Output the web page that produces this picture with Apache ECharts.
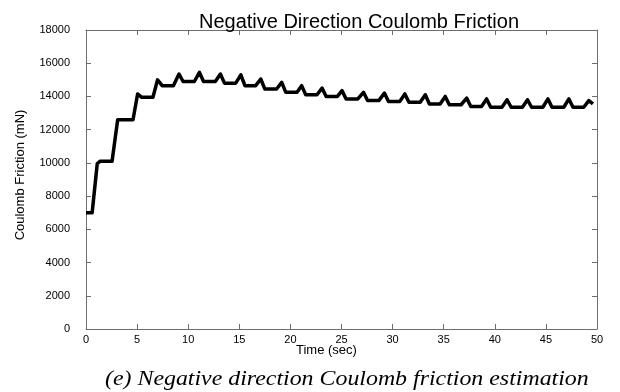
<!DOCTYPE html>
<html>
<head>
<meta charset="utf-8">
<script src="https://cdn.jsdelivr.net/npm/echarts@6/dist/echarts.min.js"></script>
<style>
  html, body { margin: 0; padding: 0; background: #fff; }
  #chart { width: 620px; height: 392px; }
</style>
</head>
<body>
<div id="chart"></div>
<script>
// Estimated negative-direction Coulomb friction over time
const timeSec = [
  0, 0.6, 1.1, 1.4, 2.55, 3.1, 4.6, 5.05, 5.45, 6.55,
  7.0, 7.45, 8.55, 9.1, 9.5, 10.6, 11.1, 11.5, 12.65, 13.15,
  13.55, 14.65, 15.15, 15.55, 16.6, 17.1, 17.5, 18.65, 19.15, 19.55,
  20.65, 21.1, 21.5, 22.6, 23.1, 23.5, 24.6, 25.05, 25.45, 26.6,
  27.15, 27.55, 28.65, 29.2, 29.6, 30.7, 31.2, 31.6, 32.7, 33.2,
  33.6, 34.65, 35.15, 35.55, 36.7, 37.25, 37.65, 38.7, 39.2, 39.6,
  40.7, 41.2, 41.6, 42.7, 43.2, 43.6, 44.7, 45.2, 45.6, 46.75,
  47.25, 47.65, 48.7, 49.2, 49.6
];
const frictionMN = [
  7000, 7000, 9950, 10100, 10100, 12600, 12600, 14150, 13950, 13950,
  15000, 14650, 14650, 15350, 14900, 14900, 15450, 14900, 14900, 15350,
  14800, 14800, 15300, 14650, 14650, 15050, 14450, 14450, 14850, 14250,
  14250, 14650, 14100, 14100, 14500, 14000, 14000, 14350, 13850, 13850,
  14250, 13750, 13750, 14200, 13700, 13700, 14150, 13650, 13650, 14100,
  13550, 13550, 14000, 13500, 13500, 13900, 13400, 13400, 13850, 13350,
  13350, 13800, 13350, 13350, 13800, 13350, 13350, 13850, 13350, 13350,
  13850, 13350, 13350, 13750, 13550
];
const xTicks = [0, 5, 10, 15, 20, 25, 30, 35, 40, 45, 50];
const yTicks = [0, 2000, 4000, 6000, 8000, 10000, 12000, 14000, 16000, 18000];

const chartTitle = 'Negative Direction Coulomb Friction';
const xName = 'Time (sec)';
const yName = 'Coulomb Friction (mN)';
const caption = '(e) Negative direction Coulomb friction estimation';

const sans = '"Liberation Sans", Arial, sans-serif';
const serif = '"Liberation Serif", "Times New Roman", serif';

const points = timeSec.map((t, i) => [t, frictionMN[i]]);

const chart = echarts.init(document.getElementById('chart'), null, { renderer: 'canvas' });

const frameColor = '#6e6e6e';
const boxLine = { show: true, onZero: false, lineStyle: { color: frameColor, width: 1 } };
const inTick = { show: true, inside: true, length: 5, lineStyle: { color: frameColor, width: 1 } };
const tickFont = { fontFamily: sans, fontSize: 11, color: '#000' };

chart.setOption({
  animation: false,
  backgroundColor: '#fff',
  grid: { left: 86, right: 23, top: 30, bottom: 63, containLabel: false },
  title: {
    text: chartTitle,
    left: 354, top: 7, textAlign: 'center',
    textStyle: { fontFamily: sans, fontSize: 20, fontWeight: 'normal', color: '#000' }
  },
  xAxis: [
    {
      type: 'value', position: 'bottom',
      min: xTicks[0], max: xTicks[xTicks.length - 1], interval: xTicks[1] - xTicks[0],
      axisLine: boxLine, axisTick: inTick,
      axisLabel: Object.assign({ margin: 5 }, tickFont),
      splitLine: { show: false }
    },
    {
      type: 'value', position: 'top',
      min: xTicks[0], max: xTicks[xTicks.length - 1], interval: xTicks[1] - xTicks[0],
      axisLine: boxLine, axisTick: inTick,
      axisLabel: { show: false }, splitLine: { show: false }
    }
  ],
  yAxis: [
    {
      type: 'value', position: 'left',
      min: yTicks[0], max: yTicks[yTicks.length - 1], interval: yTicks[1] - yTicks[0],
      axisLine: boxLine, axisTick: inTick,
      axisLabel: Object.assign({ margin: 16, formatter: v => String(v) }, tickFont),
      splitLine: { show: false }
    },
    {
      type: 'value', position: 'right',
      min: yTicks[0], max: yTicks[yTicks.length - 1], interval: yTicks[1] - yTicks[0],
      axisLine: boxLine, axisTick: inTick,
      axisLabel: { show: false }, splitLine: { show: false }
    }
  ],
  graphic: [
    {
      type: 'text', left: 296, top: 344,
      style: { text: xName, fill: '#000', font: '13px ' + sans }
    },
    {
      type: 'text', rotation: Math.PI / 2, x: 20, y: 175,
      style: { text: yName, fill: '#000', font: '13px ' + sans, align: 'center', verticalAlign: 'middle' }
    },
    {
      type: 'text', x: 105, y: 368, scaleX: 1.085,
      style: { text: caption, fill: '#000', font: 'italic 22px ' + serif, verticalAlign: 'top' }
    }
  ],
  series: [
    {
      type: 'line',
      xAxisIndex: 0, yAxisIndex: 0,
      data: points,
      showSymbol: false,
      lineStyle: { color: '#000', width: 3.5, join: 'round' },
      silent: true
    }
  ]
});
</script>
</body>
</html>
